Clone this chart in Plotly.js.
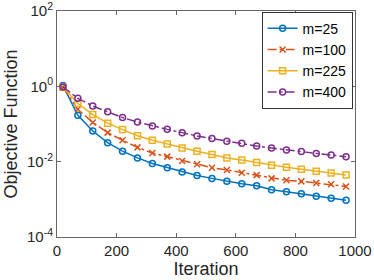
<!DOCTYPE html>
<html>
<head>
<meta charset="utf-8">
<script src="https://cdn.plot.ly/plotly-3.0.1.min.js"></script>
<style>html,body{margin:0;padding:0;background:#fff;}#chart{width:374px;height:280px;}</style>
</head>
<body>
<div id="chart"></div>
<script>
const iterations = [20, 70, 120, 170, 220, 270, 320, 370, 420, 470, 520, 570, 620, 670, 720, 770, 820, 870, 920, 970];
const m25  = [1.05, 0.17, 0.065, 0.032, 0.019, 0.0126, 0.0089, 0.0069, 0.0053, 0.0043, 0.0036, 0.0030, 0.0026, 0.0023, 0.0018, 0.0016, 0.0014, 0.0012, 0.00107, 0.00095];
const m100 = [0.95, 0.245, 0.11, 0.059, 0.037, 0.024, 0.017, 0.0136, 0.0104, 0.0085, 0.0069, 0.0060, 0.0051, 0.0044, 0.0036, 0.0032, 0.0030, 0.0027, 0.0025, 0.0022];
const m225 = [0.95, 0.35, 0.178, 0.105, 0.071, 0.049, 0.037, 0.0295, 0.023, 0.019, 0.0154, 0.0126, 0.011, 0.0095, 0.0080, 0.0071, 0.0063, 0.0056, 0.0050, 0.0044];
const m400 = [0.96, 0.48, 0.30, 0.21, 0.148, 0.113, 0.089, 0.072, 0.059, 0.048, 0.041, 0.035, 0.031, 0.026, 0.023, 0.0204, 0.0185, 0.0166, 0.015, 0.0136];
const seriesNames = ['m=25', 'm=100', 'm=225', 'm=400'];
const xTicks = [0, 200, 400, 600, 800, 1000];
const yTicks = [1e-4, 1e-2, 1e0, 1e2];
const yTickText = ['10<sup>-4</sup>', '10<sup>-2</sup>', '10<sup>0</sup>', '10<sup>2</sup>'];

const colors = ['#0072BD', '#D95319', '#EDB120', '#7E2F8E'];
const dashes = ['solid', 'dashdot', 'solid', 'dashdot'];
const symbols = ['circle-open', 'x-thin-open', 'square-open', 'circle-open'];
const ys = [m25, m100, m225, m400];

const traces = ys.map((y, i) => ({
  x: iterations, y: y, name: seriesNames[i], type: 'scatter', mode: 'lines+markers',
  line: {color: colors[i], width: 1.5, dash: dashes[i]},
  marker: {symbol: symbols[i], size: 6, color: colors[i], line: {color: colors[i], width: 1.5}}
}));

const axisCommon = {
  showline: true, mirror: 'ticks', linecolor: '#666', linewidth: 1,
  ticks: 'inside', ticklen: 4, tickcolor: '#666', tickwidth: 1,
  showgrid: false, zeroline: false, ticklabeloverflow: 'allow',
  tickfont: {family: 'Liberation Sans, Arial, sans-serif', size: 15, color: '#262626'}
};

const layout = {
  width: 374, height: 280,
  margin: {l: 57, r: 19, t: 11, b: 43},
  paper_bgcolor: '#fff', plot_bgcolor: '#fff',
  showlegend: true,
  legend: {x: 0.992, y: 0.997, xanchor: 'right', yanchor: 'top', bgcolor: '#fff',
    bordercolor: '#333', borderwidth: 1, font: {family: 'Liberation Sans, Arial, sans-serif', size: 14, color: '#000'},
    itemwidth: 30, tracegroupgap: 0},
  xaxis: Object.assign({}, axisCommon, {
    range: [0, 1000], tickvals: xTicks, ticktext: xTicks.map(String),
    title: {text: 'Iteration', font: {family: 'Liberation Sans, Arial, sans-serif', size: 18, color: '#262626'}, standoff: 2}
  }),
  yaxis: Object.assign({}, axisCommon, {
    type: 'log', range: [-4, 2], tickvals: yTicks, ticktext: yTickText,
    title: {text: 'Objective Function', font: {family: 'Liberation Sans, Arial, sans-serif', size: 18, color: '#262626'}, standoff: 4}
  })
};

Plotly.newPlot('chart', traces, layout, {staticPlot: true, displayModeBar: false});
</script>
</body>
</html>
